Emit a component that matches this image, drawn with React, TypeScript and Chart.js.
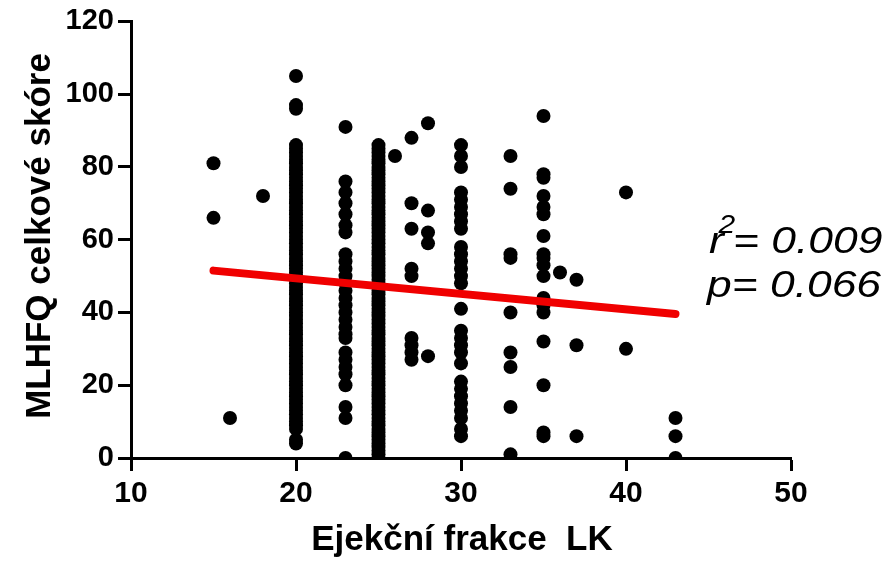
import { useEffect, useRef } from 'react';
import { Chart, registerables } from 'chart.js';

Chart.register(...registerables);

// Ejection fraction levels (x) and MLHFQ scores (y) per level
const efLevels = [15, 16, 18, 20, 23, 25, 26, 27, 28, 30, 33, 35, 36, 37, 40, 43];
const scoresEf15 = [81, 66];
const scoresEf16 = [11];
const scoresEf18 = [72];
const scoresEf20 = [105, 97, 96, 86, 85, 84, 83, 82, 81, 80, 79, 78, 77, 76, 75, 74, 73, 72, 71, 70, 69, 68, 67, 66, 65, 64, 63, 62, 61, 60, 59, 58, 57, 56, 55, 54, 53, 52, 51, 50, 49, 48, 47, 46, 45, 44, 43, 42, 41, 40, 39, 38, 37, 36, 35, 34, 33, 32, 31, 30, 29, 28, 27, 26, 25, 24, 23, 22, 21, 20, 19, 18, 17, 16, 15, 14, 13, 12, 11, 10, 9, 8, 5, 4];
const scoresEf23 = [91, 76, 73, 70, 67, 64, 62, 56, 54, 52, 50, 48, 46, 44, 42, 40, 38, 36, 34, 33, 29, 27, 25, 23, 20, 14, 11, 0];
const scoresEf25 = [86, 85, 84, 83, 82, 81, 80, 79, 78, 77, 76, 75, 74, 73, 72, 71, 70, 69, 68, 67, 66, 65, 64, 63, 62, 61, 60, 59, 58, 57, 56, 55, 54, 53, 52, 51, 50, 49, 48, 47, 46, 45, 44, 43, 42, 41, 40, 39, 38, 37, 36, 35, 34, 33, 32, 31, 30, 29, 28, 27, 26, 25, 24, 23, 22, 21, 20, 19, 18, 17, 16, 15, 14, 13, 12, 11, 10, 9, 8, 7, 6, 5, 4, 3, 2, 1, 0];
const scoresEf26 = [83];
const scoresEf27 = [88, 70, 63, 52, 50, 33, 31, 29, 27];
const scoresEf28 = [92, 68, 62, 59, 28];
const scoresEf30 = [86, 83, 80, 73, 71, 69, 67, 65, 63, 58, 56, 54, 52, 50, 48, 41, 35, 33, 31, 29, 26, 21, 19, 17, 15, 13, 11, 8, 6];
const scoresEf33 = [83, 74, 56, 55, 40, 29, 25, 14, 1];
const scoresEf35 = [94, 78, 77, 72, 69, 67, 61, 56, 55, 53, 50, 44, 42, 40, 32, 20, 7, 6];
const scoresEf36 = [51];
const scoresEf37 = [49, 31, 6];
const scoresEf40 = [73, 30];
const scoresEf43 = [11, 6, 0];
const scoreGroups = [scoresEf15, scoresEf16, scoresEf18, scoresEf20, scoresEf23, scoresEf25, scoresEf26, scoresEf27, scoresEf28, scoresEf30, scoresEf33, scoresEf35, scoresEf36, scoresEf37, scoresEf40, scoresEf43];

// Linear regression line end points
const fitX = [15, 43];
const fitY = [51.5, 39.6];

const xTicks = [10, 20, 30, 40, 50];
const yTicks = [0, 20, 40, 60, 80, 100, 120];

const xTitle = 'Ejekční frakce  LK';
const yTitle = 'MLHFQ celkové skóre';
const r2Value = '0.009';
const pValue = '0.066';

const FONT = '"Liberation Sans", Arial, Helvetica, sans-serif';

export default function App() {
  const ref = useRef<HTMLCanvasElement | null>(null);

  useEffect(() => {
    document.body.style.margin = '0';
    const canvas = ref.current;
    if (!canvas) return;

    const points: { x: number; y: number }[] = [];
    efLevels.forEach((ef, i) => {
      scoreGroups[i].forEach((s) => points.push({ x: ef, y: s }));
    });
    const fit = fitX.map((x, i) => ({ x, y: fitY[i] }));

    const annot = {
      id: 'annot',
      afterDraw(chart: any) {
        const ctx = chart.ctx as CanvasRenderingContext2D;
        ctx.save();
        ctx.fillStyle = '#000';
        ctx.textBaseline = 'alphabetic';
        // Y title
        ctx.save();
        ctx.font = `bold 35px ${FONT}`;
        ctx.translate(50, 236);
        ctx.rotate(-Math.PI / 2);
        ctx.textAlign = 'center';
        ctx.fillText(yTitle, 0, 0);
        ctx.restore();
        // X title
        ctx.font = `bold 35px ${FONT}`;
        ctx.textAlign = 'center';
        ctx.fillText(xTitle, 462, 550);
        // Stats
        ctx.textAlign = 'left';
        const sx = 1.2;
        ctx.save();
        ctx.translate(709, 253);
        ctx.scale(sx, 1);
        ctx.font = `italic 37px ${FONT}`;
        ctx.fillText('r', 0, 0);
        ctx.font = `italic 25px ${FONT}`;
        ctx.fillText('2', 8, -20);
        ctx.font = `italic 37px ${FONT}`;
        ctx.fillText('= ' + r2Value, 20, 0);
        ctx.restore();
        ctx.save();
        ctx.translate(707, 297);
        ctx.scale(sx, 1);
        ctx.font = `italic 37px ${FONT}`;
        ctx.fillText('p= ' + pValue, 0, 0);
        ctx.restore();
        ctx.restore();
      },
    };

    const chart = new Chart(canvas, {
      type: 'scatter',
      data: {
        datasets: [
          {
            label: 'fit',
            data: fit,
            showLine: true,
            borderColor: '#f00000',
            borderWidth: 8,
            borderCapStyle: 'round',
            pointRadius: 0,
            order: 0,
          } as any,
          {
            label: 'data',
            data: points,
            backgroundColor: '#000',
            borderWidth: 0,
            pointRadius: 7,
            order: 1,
          },
        ],
      },
      options: {
        responsive: false,
        animation: false,
        events: [],
        layout: { padding: { left: 0, top: 20, right: 97, bottom: 0 } },
        plugins: {
          legend: { display: false },
          tooltip: { enabled: false },
          title: { display: false },
        },
        scales: {
          x: {
            type: 'linear',
            min: 10,
            max: 50,
            afterFit: (s: any) => {
              s.height = 103;
            },
            afterBuildTicks: (s: any) => {
              s.ticks = xTicks.map((v) => ({ value: v }));
            },
            ticks: {
              color: '#000',
              font: { family: FONT, size: 30, weight: 'bold' },
              padding: 5,
            },
            grid: {
              display: true,
              drawOnChartArea: false,
              drawTicks: true,
              tickLength: 13,
              tickWidth: 3,
              tickColor: '#000',
            },
            border: { display: true, color: '#000', width: 3 },
          },
          y: {
            type: 'linear',
            min: 0,
            max: 120,
            afterFit: (s: any) => {
              s.width = 131;
            },
            afterBuildTicks: (s: any) => {
              s.ticks = yTicks.map((v) => ({ value: v }));
            },
            ticks: {
              color: '#000',
              font: { family: FONT, size: 29, weight: 'bold' },
              padding: 4,
            },
            grid: {
              display: true,
              drawOnChartArea: false,
              drawTicks: true,
              tickLength: 13,
              tickWidth: 3,
              tickColor: '#000',
            },
            border: { display: true, color: '#000', width: 3 },
          },
        },
      },
      plugins: [annot],
    });

    return () => chart.destroy();
  }, []);

  return <canvas ref={ref} width={888} height={561} style={{ display: 'block' }} />;
}
